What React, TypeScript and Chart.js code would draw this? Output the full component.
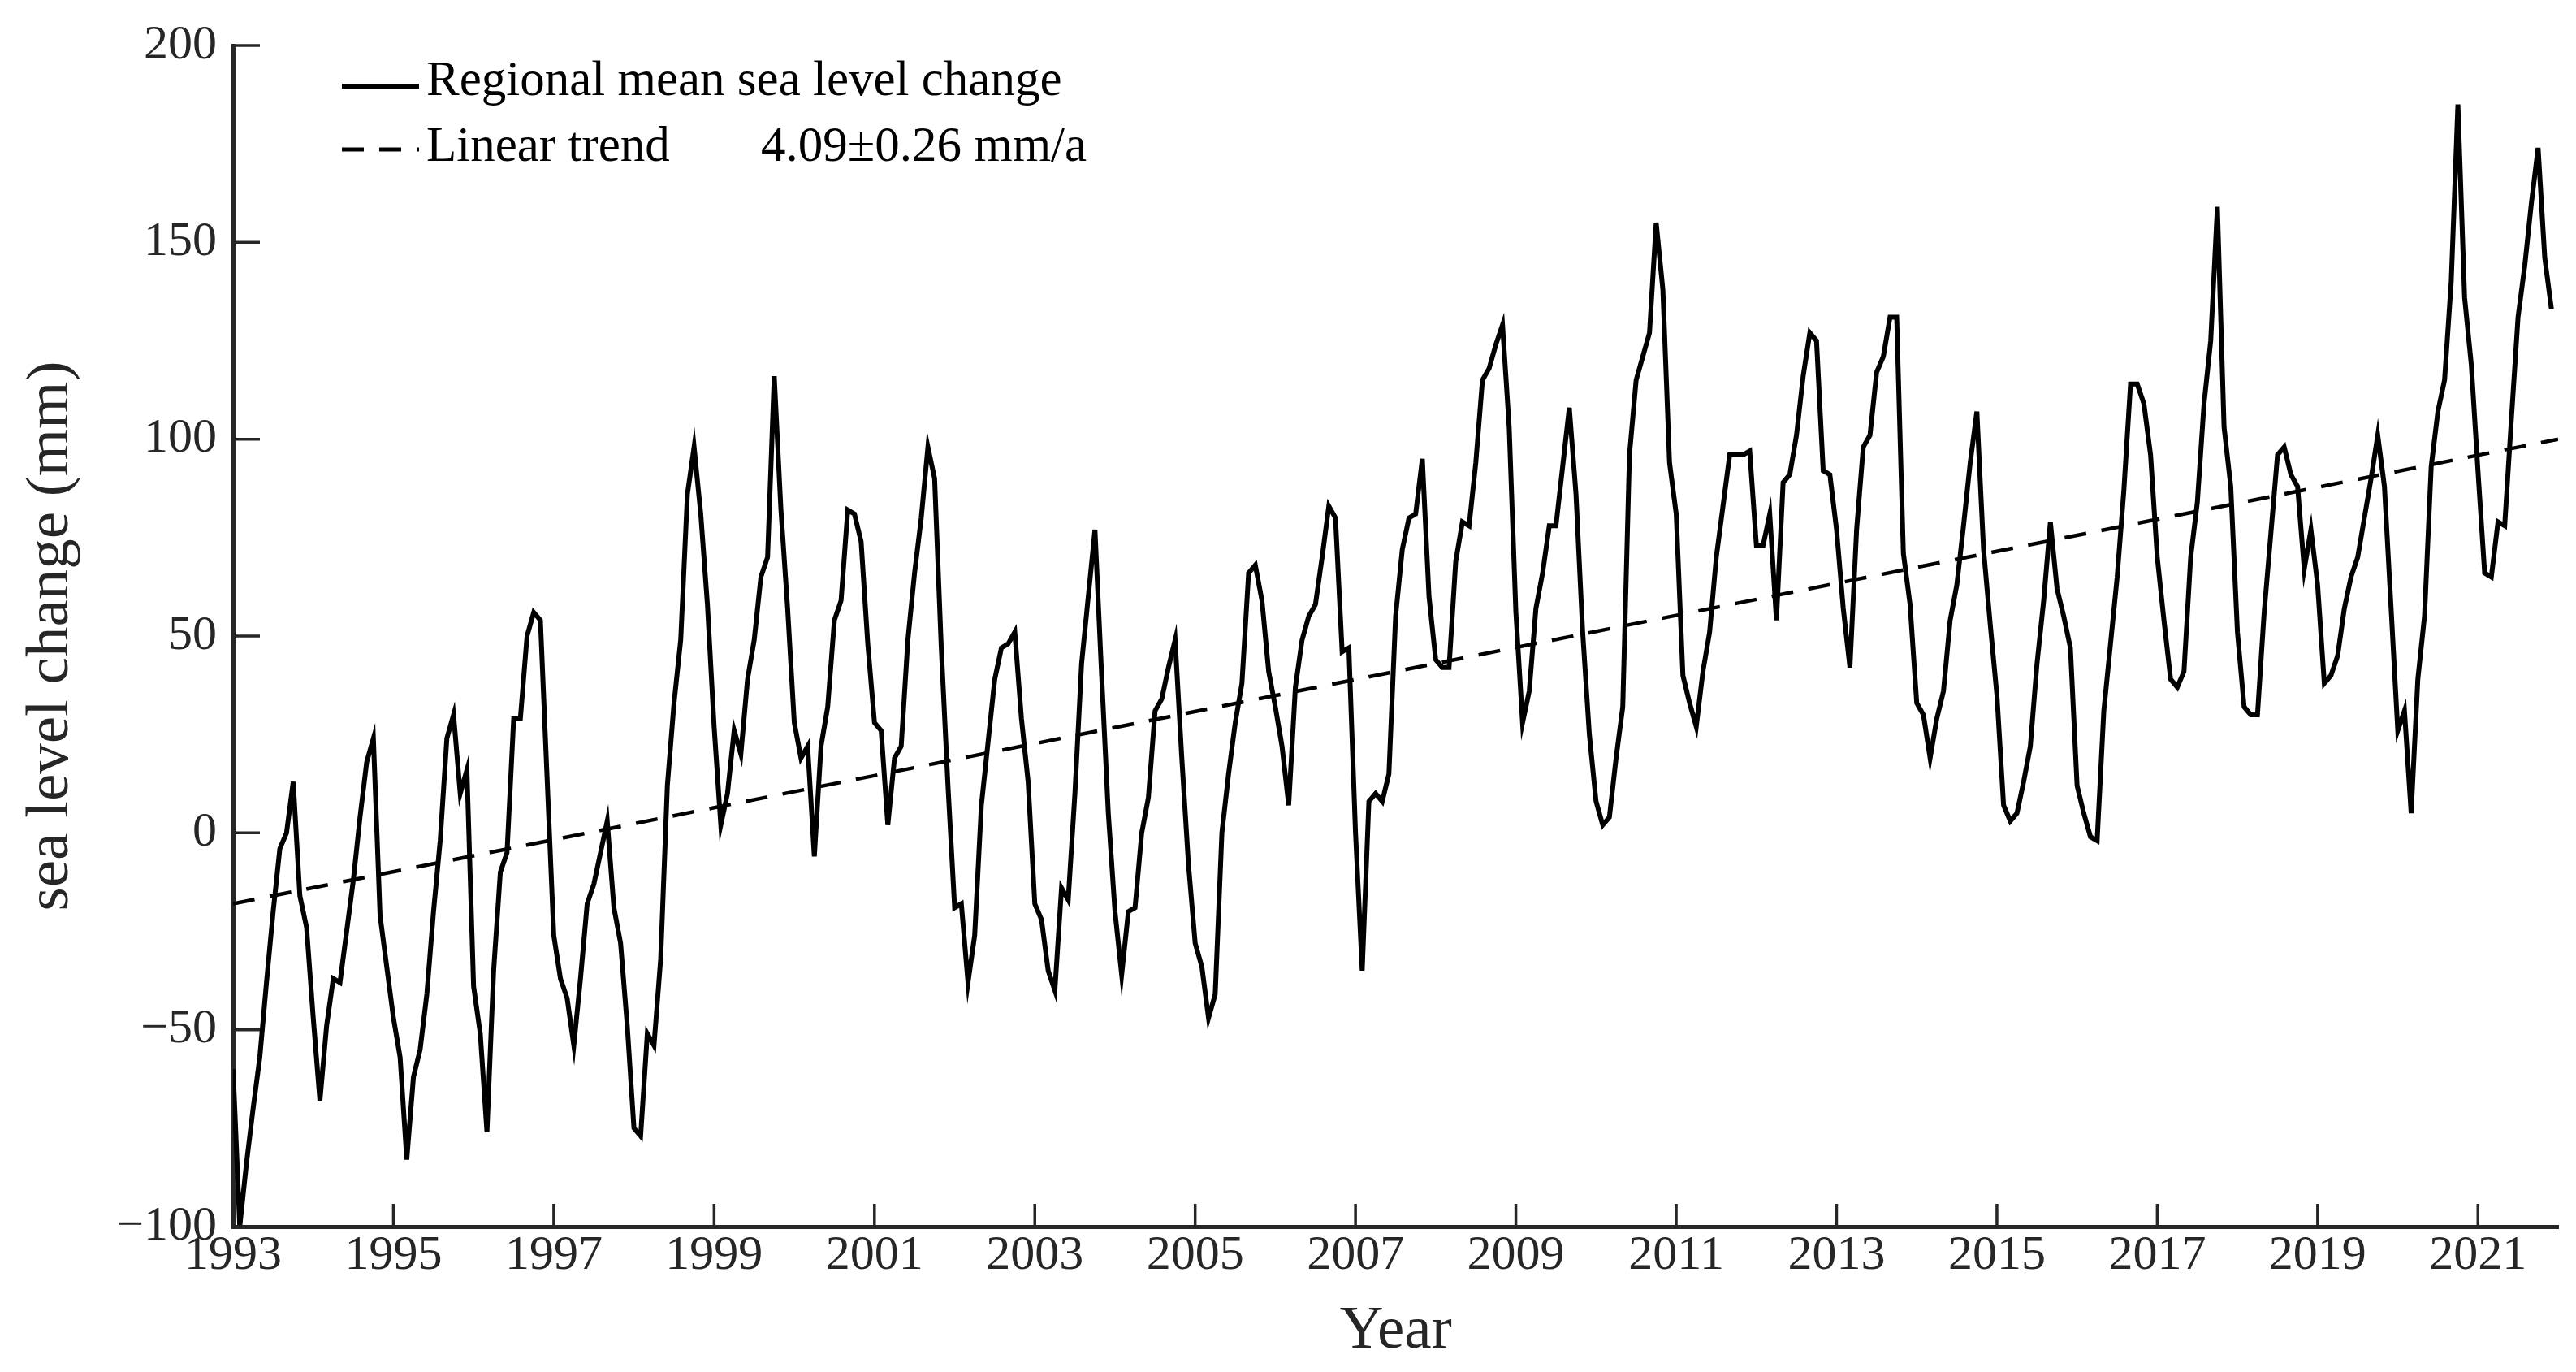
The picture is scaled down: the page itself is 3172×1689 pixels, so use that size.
import React, { useEffect, useRef } from 'react';
import { Chart, registerables } from 'chart.js';

Chart.register(...registerables);

// ---------------- data ----------------
const START_YEAR = 1993;
// monthly regional mean sea level change (mm), one array per year (Jan..Dec)
const sea1993 = [-60, -100, -84, -70, -57, -38, -20, -4, 0, 13, -16, -24];
const sea1994 = [-47, -68, -49, -37, -38, -25, -12, 4, 18, 24, -21, -34];
const sea1995 = [-47, -57, -83, -62, -55, -41, -20, -2, 24, 30, 10, 16];
const sea1996 = [-39, -51, -76, -35, -10, -5, 29, 29, 50, 56, 54, 14];
const sea1997 = [-26, -37, -42, -54, -37, -18, -13, -5, 3, -19, -28, -49];
const sea1998 = [-75, -77, -51, -54, -32, 12, 33, 49, 86, 98, 81, 58];
const sea1999 = [27, 2, 10, 26, 20, 39, 49, 65, 70, 116, 82, 57];
const sea2000 = [28, 19, 22, -6, 22, 32, 54, 59, 82, 81, 74, 48];
const sea2001 = [28, 26, 2, 19, 22, 49, 66, 80, 98, 90, 47, 12];
const sea2002 = [-19, -18, -38, -26, 7, 23, 39, 47, 48, 51, 29, 13];
const sea2003 = [-18, -22, -35, -40, -14, -17, 10, 43, 60, 77, 40, 5];
const sea2004 = [-20, -36, -20, -19, 0, 9, 31, 34, 42, 49, 19, -8];
const sea2005 = [-28, -34, -47, -41, 0, 15, 28, 38, 66, 68, 59, 41];
const sea2006 = [32, 22, 7, 37, 49, 55, 58, 70, 83, 80, 46, 47];
const sea2007 = [0, -35, 8, 10, 8, 15, 55, 72, 80, 81, 95, 60];
const sea2008 = [44, 42, 42, 69, 79, 78, 94, 115, 118, 124, 129, 103];
const sea2009 = [56, 28, 36, 57, 66, 78, 78, 93, 108, 86, 51, 25];
const sea2010 = [8, 2, 4, 19, 32, 96, 115, 121, 127, 155, 138, 94];
const sea2011 = [81, 40, 33, 27, 41, 51, 70, 83, 96, 96, 96, 97];
const sea2012 = [73, 73, 81, 54, 89, 91, 101, 116, 127, 125, 92, 91];
const sea2013 = [77, 57, 42, 77, 98, 101, 117, 121, 131, 131, 71, 58];
const sea2014 = [33, 30, 19, 29, 36, 54, 63, 78, 94, 107, 72, 53];
const sea2015 = [35, 7, 3, 5, 13, 22, 43, 59, 79, 62, 55, 47];
const sea2016 = [12, 5, -1, -2, 31, 48, 65, 87, 114, 114, 109, 96];
const sea2017 = [70, 54, 39, 37, 41, 70, 84, 109, 125, 159, 103, 88];
const sea2018 = [51, 32, 30, 30, 56, 76, 96, 98, 91, 88, 67, 77];
const sea2019 = [63, 38, 40, 45, 57, 65, 70, 80, 90, 101, 88, 57];
const sea2020 = [26, 31, 5, 39, 55, 93, 107, 115, 140, 185, 136, 119];
const sea2021 = [92, 66, 65, 79, 78, 105, 131, 144, 160, 174, 146, 133];

const seaLevelByYear = [
  sea1993, sea1994, sea1995, sea1996, sea1997, sea1998, sea1999, sea2000,
  sea2001, sea2002, sea2003, sea2004, sea2005, sea2006, sea2007, sea2008,
  sea2009, sea2010, sea2011, sea2012, sea2013, sea2014, sea2015, sea2016,
  sea2017, sea2018, sea2019, sea2020, sea2021,
];

// linear trend end points
const trendYears = [1993, 2022];
const trendValues = [-18, 100];

const xTickYears = [1993, 1995, 1997, 1999, 2001, 2003, 2005, 2007, 2009, 2011, 2013, 2015, 2017, 2019, 2021];
const yTickValues = [-100, -50, 0, 50, 100, 150, 200];

const seriesLabel = 'Regional mean sea level change';
const trendLabel = 'Linear trend';
const trendRateLabel = '4.09\u00B10.26 mm/a';
const xTitle = 'Year';
const yTitle = 'sea level change (mm)';

// ---------------- style ----------------
const W = 3172;
const H = 1689;
const FONT = "'Liberation Serif', 'Times New Roman', serif";
const AXIS = '#262626';
const DASH = [27, 19];

const overlayPlugin = {
  id: 'overlay',
  afterDraw(chart: any) {
    const { ctx, chartArea, scales } = chart;
    const xs = scales.x;
    const ys = scales.y;
    ctx.save();
    // inward tick marks
    ctx.strokeStyle = AXIS;
    ctx.lineWidth = 3.5;
    ctx.lineCap = 'butt';
    ctx.setLineDash([]);
    ctx.beginPath();
    for (const t of ys.ticks) {
      const py = ys.getPixelForValue(t.value);
      ctx.moveTo(chartArea.left, py);
      ctx.lineTo(chartArea.left + 33, py);
    }
    for (const t of xs.ticks) {
      const px = xs.getPixelForValue(t.value);
      ctx.moveTo(px, chartArea.bottom);
      ctx.lineTo(px, chartArea.bottom - 28);
    }
    ctx.stroke();

    // legend
    const lx0 = chartArea.left + 134;
    const lx1 = chartArea.left + 229;
    const r1 = chartArea.top + 50;
    const r2 = chartArea.top + 128;
    ctx.strokeStyle = '#000';
    ctx.lineWidth = 6;
    ctx.beginPath();
    ctx.moveTo(lx0, r1);
    ctx.lineTo(lx1, r1);
    ctx.stroke();
    ctx.lineWidth = 5;
    ctx.setLineDash(DASH);
    ctx.beginPath();
    ctx.moveTo(lx0, r2);
    ctx.lineTo(lx1, r2);
    ctx.stroke();
    ctx.setLineDash([]);

    ctx.fillStyle = '#000';
    ctx.font = `61px ${FONT}`;
    ctx.textAlign = 'left';
    ctx.textBaseline = 'alphabetic';
    ctx.fillText(seriesLabel, chartArea.left + 238, r1 + 11);
    ctx.fillText(trendLabel, chartArea.left + 238, r2 + 14);
    ctx.fillText(trendRateLabel, chartArea.left + 650, r2 + 14);
    ctx.restore();
  },
};

export default function App() {
  const canvasRef = useRef<HTMLCanvasElement | null>(null);

  useEffect(() => {
    if (!canvasRef.current) return;
    const seaPoints = seaLevelByYear.flatMap((vals, yi) =>
      vals.map((v, mi) => ({ x: START_YEAR + yi + mi / 12, y: v }))
    );
    const trendPoints = trendYears.map((yr, i) => ({ x: yr, y: trendValues[i] }));

    const chart = new Chart(canvasRef.current, {
      type: 'line',
      data: {
        datasets: [
          {
            label: seriesLabel,
            data: seaPoints,
            borderColor: '#000',
            borderWidth: 6,
            pointRadius: 0,
            tension: 0,
            fill: false,
          },
          {
            label: trendLabel,
            data: trendPoints,
            borderColor: '#000',
            borderWidth: 4.5,
            borderDash: DASH,
            pointRadius: 0,
            tension: 0,
            fill: false,
          },
        ],
      },
      options: {
        responsive: false,
        animation: false,
        devicePixelRatio: 1,
        layout: { padding: { left: 0, right: 22, top: 51, bottom: 0 } },
        plugins: {
          legend: { display: false },
          tooltip: { enabled: false },
        },
        scales: {
          x: {
            type: 'linear',
            position: 'bottom',
            min: 1993,
            max: 2022,
            afterBuildTicks: (s: any) => {
              s.ticks = xTickYears.map((v) => ({ value: v }));
            },
            afterFit: (s: any) => {
              s.height = 179;
            },
            grid: { display: false, drawTicks: false },
            border: { display: true, color: AXIS, width: 5 },
            ticks: {
              autoSkip: false,
              maxRotation: 0,
              padding: 0,
              color: AXIS,
              font: { family: FONT, size: 60 },
              callback: (v: any) => String(v),
            },
            title: {
              display: true,
              text: xTitle,
              color: AXIS,
              font: { family: FONT, size: 75 },
              padding: { top: 0, bottom: 5 },
            },
          },
          y: {
            type: 'linear',
            min: -100,
            max: 200,
            afterBuildTicks: (s: any) => {
              s.ticks = yTickValues.map((v) => ({ value: v }));
            },
            afterFit: (s: any) => {
              s.width = 287;
            },
            grid: { display: false, drawTicks: false },
            border: { display: true, color: AXIS, width: 5 },
            ticks: {
              padding: 20,
              color: AXIS,
              font: { family: FONT, size: 60 },
              callback: (v: any) => (v < 0 ? '\u2212' + Math.abs(v) : String(v)),
            },
            title: {
              display: true,
              text: yTitle,
              color: AXIS,
              font: { family: FONT, size: 75 },
              padding: { top: 18, bottom: 0 },
            },
          },
        },
      },
      plugins: [overlayPlugin],
    });
    return () => chart.destroy();
  }, []);

  return (
    <div style={{ position: 'absolute', left: 0, top: 0, width: W, height: H, background: '#fff' }}>
      <canvas ref={canvasRef} width={W} height={H} style={{ width: W, height: H, display: 'block' }} />
    </div>
  );
}
